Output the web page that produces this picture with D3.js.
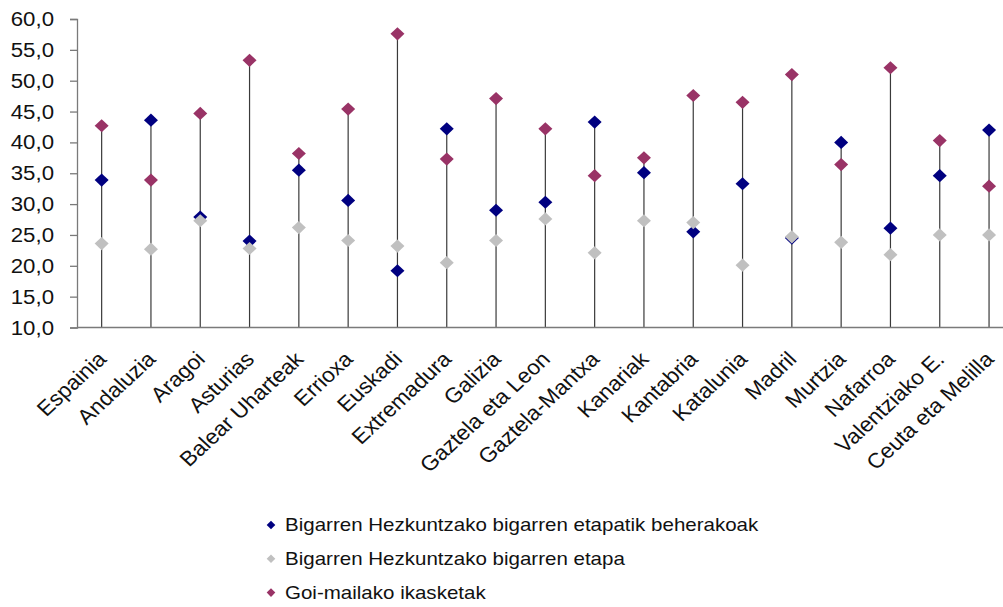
<!DOCTYPE html>
<html><head><meta charset="utf-8">
<script src="https://cdn.jsdelivr.net/npm/d3@7"></script>
<style>html,body{margin:0;padding:0;background:#fff;overflow:hidden}</style>
</head><body>
<svg id="c" width="1003" height="607"></svg>
<script>
const categories = ["Espainia","Andaluzia","Aragoi","Asturias","Balear Uharteak","Errioxa","Euskadi","Extremadura","Galizia","Gaztela eta Leon","Gaztela-Mantxa","Kanariak","Kantabria","Katalunia","Madril","Murtzia","Nafarroa","Valentziako E.","Ceuta eta Melilla"];
const seriesNames = ["Bigarren Hezkuntzako bigarren etapatik beherakoak","Bigarren Hezkuntzako bigarren etapa","Goi-mailako ikasketak"];
const belowSecondary = [33.9, 43.6, 27.9, 24.0, 35.5, 30.6, 19.2, 42.2, 29.0, 30.3, 43.3, 35.1, 25.5, 33.3, 24.5, 40.0, 26.1, 34.6, 42.0];
const upperSecondary = [23.6, 22.7, 27.3, 22.8, 26.2, 24.1, 23.2, 20.5, 24.1, 27.6, 22.1, 27.3, 27.0, 20.1, 24.7, 23.8, 21.8, 25.0, 25.0];
const tertiary = [42.7, 33.9, 44.7, 53.3, 38.2, 45.4, 57.6, 37.3, 47.1, 42.2, 34.6, 37.5, 47.6, 46.5, 51.0, 36.4, 52.1, 40.3, 32.9];
const yTicks = [10, 15, 20, 25, 30, 35, 40, 45, 50, 55, 60];
const colors = ["#000080", "#C0C0C0", "#993366"];

const svg = d3.select("#c");
const K = 1.14; // horizontal stretch of text
const KX = 1.08;
const FONT = "'Liberation Sans', Arial, sans-serif";
const plotLeft = 77, plotTop = 19, plotBottom = 327.5, band = 49.3;

const x = d3.scaleBand().domain(categories).range([plotLeft, plotLeft + categories.length * band]).padding(0);
const y = d3.scaleLinear().domain([10, 60]).range([plotBottom, plotTop]);
const cx = c => x(c) + x.bandwidth() / 2;

// y axis
const yAxis = svg.append("g").attr("transform", `translate(${plotLeft},0)`)
  .call(d3.axisLeft(y).tickValues(yTicks).tickSize(7).tickFormat(""));
yAxis.select(".domain").attr("stroke", "#7a7a7a").attr("stroke-width", 1.3);
yAxis.selectAll(".tick line").attr("stroke", "#7a7a7a").attr("stroke-width", 1.3);

svg.append("g").selectAll("text").data(yTicks).join("text")
  .attr("transform", d => `translate(54,${y(d)}) scale(${K},1)`)
  .attr("text-anchor", "end").attr("dy", "0.36em")
  .attr("font-family", FONT).attr("font-size", 19.5).attr("fill", "#111")
  .text(d => d3.format(".1f")(d).replace(".", ","));

// drop lines
const rows = categories.map((c, i) => ({c, v: [belowSecondary[i], upperSecondary[i], tertiary[i]]}));
svg.append("g").selectAll("line").data(rows).join("line")
  .attr("x1", d => cx(d.c)).attr("x2", d => cx(d.c))
  .attr("y1", y(10)).attr("y2", d => y(d3.max(d.v)))
  .attr("stroke", "#3a3a3a").attr("stroke-width", 1.2);

// x axis line
svg.append("line").attr("x1", plotLeft).attr("x2", 1003).attr("y1", plotBottom).attr("y2", plotBottom)
  .attr("stroke", "#7a7a7a").attr("stroke-width", 1.5);

// x labels
svg.append("g").selectAll("text").data(categories).join("text")
  .attr("transform", c => `translate(${cx(c) + 6},${plotBottom + 33}) scale(${KX},1) rotate(-45)`)
  .attr("text-anchor", "end")
  .attr("font-family", FONT).attr("font-size", 21).attr("fill", "#111")
  .text(c => c);

// markers
const diamond = (hw, hh) => `M0,${-hh}L${hw},0L0,${hh}L${-hw},0Z`;
const allSeries = [belowSecondary, upperSecondary, tertiary];
allSeries.forEach((vals, s) => {
  svg.append("g").selectAll("path").data(vals).join("path")
    .attr("d", diamond(7, 6.6))
    .attr("transform", (v, i) => `translate(${cx(categories[i])},${y(v)})`)
    .attr("fill", colors[s]);
});

// legend
const leg = svg.append("g");
seriesNames.forEach((name, s) => {
  const ly = 525 + s * 33.8;
  leg.append("path").attr("d", diamond(4.3, 4.3)).attr("transform", `translate(271,${ly})`).attr("fill", colors[s]);
  leg.append("text").attr("transform", `translate(285,${ly}) scale(${K},1)`)
    .attr("dy", "0.36em").attr("font-family", FONT).attr("font-size", 18).attr("fill", "#111")
    .text(name);
});
</script>
</body></html>
